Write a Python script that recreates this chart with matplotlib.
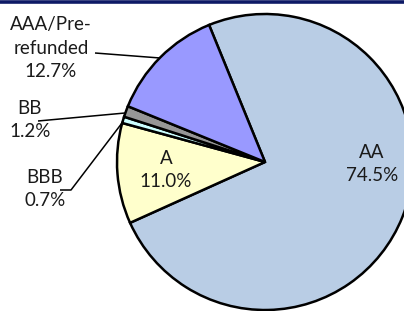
import matplotlib
matplotlib.use("Agg")
import matplotlib.pyplot as plt
from matplotlib.lines import Line2D

labels = ["AA", "A", "BBB", "BB", "AAA/Pre-\nrefunded"]
values = [74.5, 11.0, 0.7, 1.2, 12.7]
colors = ["#B9CDE5", "#FFFFCC", "#CCFFFF", "#969696", "#9999FF"]

W, H = 404, 311
CX, CY, R = 265, 162, 148  # pie centre / radius in pixels


def px(x, y):
    # pixel position -> data coords (pie radius = 1)
    return (x - CX) / R, (CY - y) / R


fig = plt.figure(figsize=(W / 100, H / 100), dpi=100)
ax = fig.add_axes([0, 0, 1, 1])

ax.pie(values, colors=colors, startangle=112.2, counterclock=False,
       radius=1, center=(0, 0),
       wedgeprops=dict(edgecolor="black", linewidth=1.8))

# pie() resets the limits, so set them afterwards
ax.set_xlim(px(0, 0)[0], px(W, 0)[0])
ax.set_ylim(px(0, H)[1], px(0, 0)[1])
ax.set_aspect("equal")
ax.axis("off")

font = dict(family=["Lato", "DejaVu Sans"], fontsize=13.5, color="#1a1a1a",
            ha="center", va="center", linespacing=1.45)

# labels inside
ax.text(*px(372, 164), "AA\n74.5%", **font)
ax.text(*px(166, 170), "A\n11.0%", **font)

# outside labels
ax.text(*px(51, 48), "AAA/Pre-\nrefunded\n12.7%", **font)
ax.text(*px(30, 120), "BB\n1.2%", **font)
ax.text(*px(45, 189), "BBB\n0.7%", **font)

# leader lines
def leader(points):
    xs, ys = zip(*[px(x, y) for x, y in points])
    ax.plot(xs, ys, color="black", linewidth=1.1, solid_capstyle="butt")


leader([(95, 53), (160, 58)])
leader([(38, 121), (125, 113)])
leader([(60, 190), (71, 190), (122, 123)])

# dark rule along the top
fig.add_artist(Line2D([0, 1], [1 - 1.5 / H, 1 - 1.5 / H], transform=fig.transFigure,
                      color="#0d1a66", linewidth=2.6))

fig.savefig("out.png", dpi=100)
